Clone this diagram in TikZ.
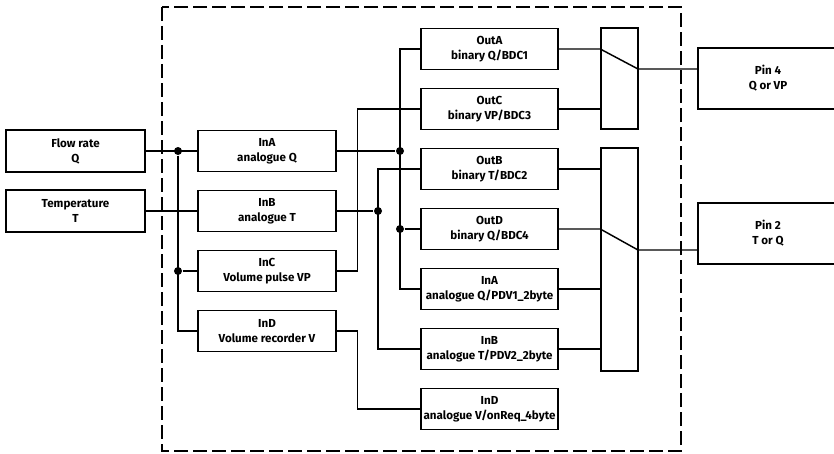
\documentclass[tikz,border=0pt]{standalone}
\usepackage{fontspec}
\setmainfont{Fira Sans}
\usepackage{tikz}

\tikzset{
  blk/.style={draw, line width=1.1pt, align=center, inner sep=0.75pt,
    font=\bfseries\fontsize{8.7}{11.2}\selectfont, minimum height=30.75pt},
  srcbox/.style={blk, minimum width=104pt, minimum height=31.5pt},
  inbox/.style={blk, minimum width=103.5pt},
  outbox/.style={blk, minimum width=102.75pt},
  switch/.style={draw, line width=1.1pt, minimum width=27.75pt, inner sep=0pt},
  pinbox/.style={blk, minimum width=105pt, minimum height=45.75pt},
  dot/.style={circle, fill, inner sep=0pt, minimum size=6pt},
  frame/.style={line width=1.1pt, dash pattern={on 10.5pt off 3.75pt}}
}

\begin{document}
\begin{tikzpicture}[x=0.75pt,y=0.75pt,yscale=-1,xscale=1,line width=1.1pt]
\useasboundingbox (0,0) rectangle (834,453);
\clip (0,0) rectangle (834,453);

%Shape: Rectangle [dashed frame]
\draw [frame] (162,7) rectangle (681,451);

% Text Node [sensors]
\node [srcbox] (flow) at (75.5,151) {Flow rate\\Q};
\node [srcbox] (temp) at (75.5,211) {Temperature\\T};

% Text Node [inputs]
\node [inbox] (ina) at (267,151) {InA\\analogue Q};
\node [inbox] (inb) at (267,211) {InB\\analogue T};
\node [inbox] (inc) at (267,271) {InC\\Volume pulse VP};
\node [inbox] (ind) at (267,331) {InD\\Volume recorder V};

% Text Node [outputs]
\node [outbox] (outa) at (489.5,49) {OutA\\binary Q/BDC1};
\node [outbox] (outc) at (489.5,109) {OutC\\binary VP/BDC3};
\node [outbox] (outb) at (489.5,169) {OutB\\binary T/BDC2};
\node [outbox] (outd) at (489.5,229) {OutD\\binary Q/BDC4};
\node [outbox] (pdva) at (489.5,289) {InA\\analogue Q/PDV1\_2byte};
\node [outbox] (pdvb) at (489.5,349) {InB\\analogue T/PDV2\_2byte};
\node [outbox] (req) at (489.5,409) {InD\\analogue V/onReq\_4byte};

%Shape: Rectangle [switches]
\node [switch, minimum height=75.75pt] (swa) at (619.5,78.5) {};
\node [switch, minimum height=167.25pt] (swb) at (619.5,259.5) {};
\coordinate (ka) at (638,69);
\coordinate (kb) at (638,250);

% Text Node [pins]
\node [pinbox] (pin4) at (768,78.5) {Pin 4\\Q or VP};
\node [pinbox] (pin2) at (768,233.5) {Pin 2\\T or Q};

%Shape: Circle [junctions]
\node [dot] (ja) at (178,151) {};
\node [dot] (jc) at (ja |- inc) {};
\node [dot] (jq) at (400,151) {};
\node [dot] (jd) at (jq |- outd) {};
\node [dot] (jt) at (378,211) {};

%Straight Lines [left side]
\draw (flow) -- (ina);
\draw (temp) -- (inb);
\draw (ja) |- (ind.west);
\draw (jc) -- (inc);

%Straight Lines [middle]
\draw (ina) -- (jq);
\draw (outa.west) -| (jq |- pdva) -- (pdva.west);
\draw (jd) -- (outd);
\draw (inb) -- (jt);
\draw (outb.west) -| (jt |- pdvb) -- (pdvb.west);
\draw (inc.east) -- ++(21,0) |- (outc.west);
\draw (ind.east) -- ++(21,0) |- (req.west);

%Straight Lines [switches]
\draw (outa.east) -- (outa -| swa.west) -- (ka) -- (ka -| pin4.west);
\draw (outc) -- (outc -| swa.west);
\draw (outb) -- (outb -| swb.west);
\draw (outd.east) -- (outd -| swb.west) -- (kb) -- (kb -| pin2.west);
\draw (pdva) -- (pdva -| swb.west);
\draw (pdvb) -- (pdvb -| swb.west);

\end{tikzpicture}
\end{document}
